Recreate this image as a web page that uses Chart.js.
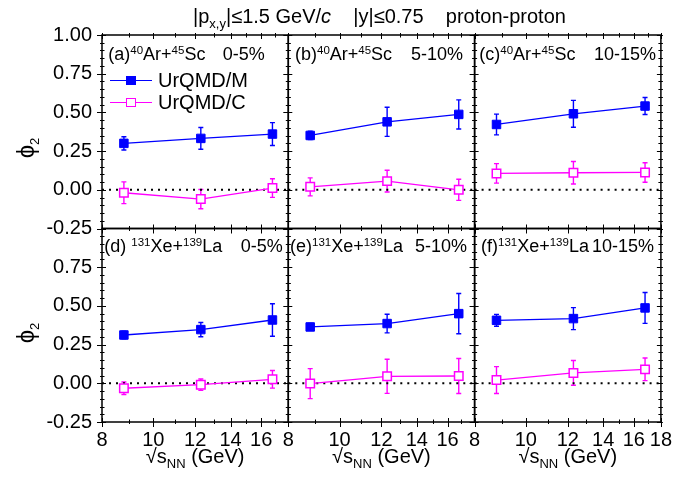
<!DOCTYPE html>
<html><head><meta charset="utf-8">
<script src="https://cdn.jsdelivr.net/npm/chart.js@4.4.0/dist/chart.umd.min.js"></script>
<style>
html,body{margin:0;padding:0;background:#fff;}
#wrap{position:relative;width:699px;height:481px;overflow:hidden;font-family:"Liberation Sans",Arial,sans-serif;color:#000;}
canvas{position:absolute;left:0;top:0;}
.t{position:absolute;white-space:pre;z-index:10;}
.t sup{font-size:11.5px;vertical-align:0.55em;line-height:0;}
.t sub{font-size:13px;vertical-align:-0.35em;line-height:0;}
.lg{position:absolute;z-index:10;box-sizing:border-box;}
</style>
</head><body>
<div id="wrap"></div>
<script>
// ---------- data ----------
const energies = [8.8, 12.3, 16.8];
const xTicks = [8, 10, 12, 14, 16, 18];
const yTicks = [-0.25, 0, 0.25, 0.5, 0.75, 1.0];
const panelLabels = [
  ['(a)<sup>40</sup>Ar+<sup>45</sup>Sc', '0-5%'],
  ['(b)<sup>40</sup>Ar+<sup>45</sup>Sc', '5-10%'],
  ['(c)<sup>40</sup>Ar+<sup>45</sup>Sc', '10-15%'],
  ['(d) <sup>131</sup>Xe+<sup>139</sup>La', '0-5%'],
  ['(e)<sup>131</sup>Xe+<sup>139</sup>La', '5-10%'],
  ['(f)<sup>131</sup>Xe+<sup>139</sup>La', '10-15%']
];
const seriesNames = ['UrQMD/M', 'UrQMD/C'];
const mValues = [
  [0.300, 0.332, 0.360],
  [0.351, 0.439, 0.487],
  [0.422, 0.491, 0.541],
  [0.312, 0.347, 0.409],
  [0.364, 0.386, 0.450],
  [0.407, 0.418, 0.487]
];
const mErrors = [
  [0.043, 0.070, 0.074],
  [0.027, 0.094, 0.094],
  [0.067, 0.087, 0.055],
  [0.025, 0.046, 0.105],
  [0.022, 0.060, 0.130],
  [0.038, 0.071, 0.100]
];
const cValues = [
  [-0.019, -0.060, 0.011],
  [0.019, 0.056, 0.000],
  [0.106, 0.110, 0.112],
  [-0.032, -0.009, 0.026],
  [-0.002, 0.045, 0.047],
  [0.021, 0.067, 0.090]
];
const cErrors = [
  [0.070, 0.062, 0.060],
  [0.058, 0.070, 0.068],
  [0.063, 0.073, 0.063],
  [0.040, 0.037, 0.057],
  [0.097, 0.110, 0.113],
  [0.087, 0.080, 0.073]
];
const zeroLine = [{x: 8, y: 0}, {x: 18, y: 0}];

// ---------- layout / style ----------
const BLUE = '#0000ff', MAG = '#ff00ff';
const COLS = [102, 288.3, 474.6];
const PW = 186.3;
const ROWS = [35, 228.5];
const PH = 193.5;
const W = 699, H = 481;
const FONT = {family: '"Liberation Sans", Arial, sans-serif', size: 20};

const yMinor = []; for (let k = -5; k <= 20; k++) yMinor.push(k / 20);
const xMinor = [9, 11, 13, 15, 17];

const wrap = document.getElementById('wrap');

const errPlugin = {
  id: 'errbars',
  beforeDatasetsDraw(chart) {
    const {ctx, scales: {x, y}} = chart;
    ctx.save();
    chart.data.datasets.forEach(ds => {
      if (!ds.errors) return;
      ctx.strokeStyle = ds.borderColor; ctx.lineWidth = 1.4;
      ds.data.forEach((p, k) => {
        const px = x.getPixelForValue(p.x);
        const y1 = y.getPixelForValue(p.y + ds.errors[k]);
        const y2 = y.getPixelForValue(p.y - ds.errors[k]);
        ctx.beginPath();
        ctx.moveTo(px, y1); ctx.lineTo(px, y2);
        ctx.moveTo(px - 2.5, y1); ctx.lineTo(px + 2.5, y1);
        ctx.moveTo(px - 2.5, y2); ctx.lineTo(px + 2.5, y2);
        ctx.stroke();
      });
    });
    ctx.restore();
  }
};

const framePlugin = {
  id: 'frame',
  afterDraw(chart) {
    const {ctx, chartArea: a, scales: {x, y}} = chart;
    ctx.save();
    ctx.strokeStyle = '#000';
    ctx.lineWidth = 1;
    yMinor.forEach(v => {
      const py = Math.round(y.getPixelForValue(v)) + 0.5;
      const major = Math.abs(v * 4 - Math.round(v * 4)) < 1e-6;
      const lenOut = major ? 5 : 2, lenIn = major ? 4 : 2.5;
      ctx.beginPath();
      ctx.moveTo(a.left - lenOut, py); ctx.lineTo(a.left + lenIn, py);
      ctx.moveTo(a.right - lenIn, py); ctx.lineTo(a.right + 2, py);
      ctx.stroke();
    });
    const xs = xTicks.map(v => [v, true]).concat(xMinor.map(v => [v, false]));
    xs.forEach(([v, major]) => {
      const px = Math.round(x.getPixelForValue(v)) + 0.5;
      ctx.beginPath();
      ctx.moveTo(px, a.bottom + (major ? 5 : 2)); ctx.lineTo(px, a.bottom - (major ? 4 : 2.5));
      ctx.moveTo(px, a.top - 2); ctx.lineTo(px, a.top + (major ? 4 : 2.5));
      ctx.stroke();
    });
    ctx.lineWidth = 1.5;
    ctx.strokeRect(a.left, a.top, a.right - a.left, a.bottom - a.top);
    ctx.restore();
  }
};

function makePanel(i) {
  const r = Math.floor(i / 3), c = i % 3;
  const L = COLS[c], T = ROWS[r];
  const B = H - T - PH;
  const yW = c === 0 ? L : 0;
  const xH = r === 1 ? B : 0;
  const cv = document.createElement('canvas');
  cv.width = W; cv.height = H;
  cv.style.width = W + 'px'; cv.style.height = H + 'px';
  wrap.appendChild(cv);
  new Chart(cv, {
    type: 'line',
    data: {
      datasets: [
        {
          label: seriesNames[0],
          data: energies.map((x, k) => ({x, y: mValues[i][k]})),
          errors: mErrors[i],
          borderColor: BLUE, backgroundColor: BLUE,
          pointStyle: 'rect', pointRadius: 6, pointBorderWidth: 1,
          pointBackgroundColor: BLUE, pointBorderColor: BLUE,
          borderWidth: 1.3, tension: 0
        },
        {
          label: seriesNames[1],
          data: energies.map((x, k) => ({x, y: cValues[i][k]})),
          errors: cErrors[i],
          borderColor: MAG, backgroundColor: '#fff',
          pointStyle: 'rect', pointRadius: 6, pointBorderWidth: 1.5,
          pointBackgroundColor: '#fff', pointBorderColor: MAG,
          borderWidth: 1.3, tension: 0
        },
        {
          label: 'zero',
          data: zeroLine,
          borderColor: '#000', borderDash: [2, 5], borderWidth: 2,
          pointRadius: 0
        }
      ]
    },
    options: {
      responsive: false, animation: false, devicePixelRatio: 1,
      layout: {padding: {left: L - yW, top: T, right: W - L - PW, bottom: B - xH}},
      plugins: {legend: {display: false}, tooltip: {enabled: false}},
      scales: {
        x: {
          type: 'logarithmic', min: 8, max: 18,
          afterBuildTicks: s => { s.ticks = xTicks.map(v => ({value: v})); },
          afterFit: s => { s.height = xH; },
          grid: {display: true, drawOnChartArea: false, color: 'rgba(0,0,0,0)', tickLength: 5},
          border: {display: false},
          ticks: {
            font: FONT, color: '#000', padding: 1, autoSkip: false, maxRotation: 0,
            callback: v => (r === 1 && (v !== 18 || c === 2)) ? String(v) : ''
          }
        },
        y: {
          min: -0.25, max: 1.0,
          afterBuildTicks: s => { s.ticks = yTicks.map(v => ({value: v})); },
          afterFit: s => { s.width = yW; },
          grid: {display: true, drawOnChartArea: false, color: 'rgba(0,0,0,0)', tickLength: 5},
          border: {display: false},
          ticks: {
            font: FONT, color: '#000', padding: 5, autoSkip: false,
            callback: v => (c === 0 && !(r === 1 && v === 1)) ? v.toFixed(2) : ''
          }
        }
      }
    },
    plugins: [errPlugin, framePlugin]
  });
}
for (let i = 0; i < 6; i++) makePanel(i);

// ---------- text ----------
function text(html, x, baseline, fs, extra) {
  const d = document.createElement('div');
  d.className = 't';
  d.style.left = x + 'px';
  d.style.fontSize = fs + 'px';
  d.style.lineHeight = fs + 'px';
  d.style.top = (baseline - 0.8465 * fs) + 'px';
  if (extra) Object.assign(d.style, extra);
  d.innerHTML = html;
  wrap.appendChild(d);
  return d;
}
text('|p<sub>x,y</sub>|≤1.5 GeV/<i>c</i>    |y|≤0.75    proton-proton', 193, 23, 20);
const pctX = [222.7, 411, 594, 240.7, 415, 592];
const labX = [108.3, 295, 479.3, 104.3, 290, 481];
for (let i = 0; i < 6; i++) {
  const r = Math.floor(i / 3);
  const bl = ROWS[r] + (r === 0 ? 25.5 : 23.5);
  text(panelLabels[i][0], labX[i], bl, 18);
  text(panelLabels[i][1], pctX[i], bl, 18);
}
for (let c = 0; c < 3; c++) {
  const d = text('√s<sub>NN</sub> (GeV)', 0, 463, 20);
  const w = d.getBoundingClientRect().width;
  d.style.left = (COLS[c] + PW / 2 - w / 2) + 'px';
}
[148, 333].forEach(cy => {
  const d = text('ϕ<sub>2</sub>', 0, 0, 24);
  const rc = d.getBoundingClientRect();
  d.style.left = (26 - rc.width / 2) + 'px';
  d.style.top = (cy - rc.height / 2) + 'px';
  d.style.transform = 'rotate(-90deg)';
});
function legend(y, name, color, filled) {
  const ln = document.createElement('div');
  ln.className = 'lg';
  Object.assign(ln.style, {left: '110px', top: (y - 0.65) + 'px', width: '42px', height: '1.3px', background: color});
  wrap.appendChild(ln);
  const sq = document.createElement('div');
  sq.className = 'lg';
  Object.assign(sq.style, {left: (131 - 4.7) + 'px', top: (y - 4.7) + 'px', width: '9.4px', height: '9.4px',
    background: filled ? color : '#fff', border: (filled ? 1 : 1.5) + 'px solid ' + color});
  wrap.appendChild(sq);
  text(name, 158, y + 7, 20);
}
legend(80.3, seriesNames[0], BLUE, true);
legend(102.3, seriesNames[1], MAG, false);
</script>
</body></html>
